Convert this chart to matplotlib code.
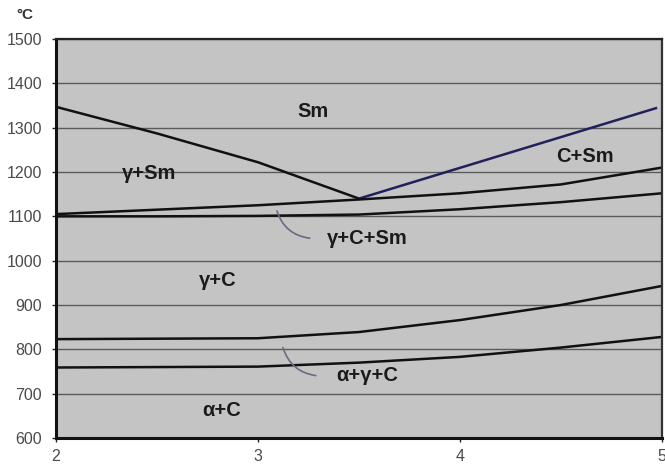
import matplotlib
matplotlib.use("Agg")
import matplotlib.pyplot as plt

# Data
liq_left_x = [2.0, 2.5, 3.0, 3.5]
liq_left_y = [1347, 1287, 1222, 1140]
liq_right_x = [3.5, 4.97]
liq_right_y = [1140, 1344]
upper_eut_x = [2.0, 2.5, 3.0, 3.5, 4.0, 4.5, 5.0]
upper_eut_y = [1105, 1115, 1125, 1138, 1152, 1172, 1210]
lower_eut_x = [2.0, 2.5, 3.0, 3.5, 4.0, 4.5, 5.0]
lower_eut_y = [1100, 1100, 1101, 1104, 1116, 1132, 1152]
upper_eoid_x = [2.0, 2.5, 3.0, 3.5, 4.0, 4.5, 5.0]
upper_eoid_y = [823, 824, 825, 839, 866, 900, 943]
lower_eoid_x = [2.0, 2.5, 3.0, 3.5, 4.0, 4.5, 5.0]
lower_eoid_y = [759, 760, 761, 770, 783, 804, 828]

region_labels = ["Sm", "γ+Sm", "C+Sm", "γ+C+Sm", "γ+C", "α+γ+C", "α+C"]
label_x = [3.27, 2.46, 4.62, 3.54, 2.8, 3.54, 2.82]
label_y = [1337, 1197, 1235, 1050, 955, 740, 661]

x_ticks = [2, 3, 4, 5]
y_ticks = list(range(600, 1501, 100))

plt.rcParams['font.family'] = ['Liberation Sans', 'DejaVu Sans']

fig = plt.figure(figsize=(6.65, 4.66), dpi=100)
ax = fig.add_axes([0.0842, 0.0601, 0.9955 - 0.0842, 0.9163 - 0.0601])
ax.set_facecolor('#c4c4c4')
ax.set_xlim(2, 5)
ax.set_ylim(600, 1500)
ax.set_xticks(x_ticks)
ax.set_yticks(y_ticks)
ax.yaxis.grid(True, color='#5a5a5a', linewidth=1.0)
ax.set_axisbelow(True)
ax.tick_params(axis='both', colors='#222222', labelcolor='#4a4a4a', labelsize=11.5,
               direction='out', length=3, width=1)
ax.tick_params(axis='y', pad=7)
ax.tick_params(axis='x', pad=5)

for s in ['left', 'bottom']:
    ax.spines[s].set_linewidth(2.2)
    ax.spines[s].set_color('#111111')
ax.spines['top'].set_linewidth(1.6)
ax.spines['top'].set_color('#222222')
ax.spines['right'].set_linewidth(1.6)
ax.spines['right'].set_color('#333333')

lw = 1.8
ax.plot(liq_left_x, liq_left_y, color='#111111', lw=lw)
ax.plot(liq_right_x, liq_right_y, color='#22205a', lw=lw)
ax.plot(upper_eut_x, upper_eut_y, color='#111111', lw=lw)
ax.plot(lower_eut_x, lower_eut_y, color='#111111', lw=lw)
ax.plot(upper_eoid_x, upper_eoid_y, color='#111111', lw=lw)
ax.plot(lower_eoid_x, lower_eoid_y, color='#111111', lw=lw)

for t, x, y in zip(region_labels, label_x, label_y):
    ax.text(x, y, t, fontsize=14.5, fontweight='bold', color='#1a1a1a',
            ha='center', va='center')

# leader curves
ax.annotate('', xy=(3.09, 1118), xytext=(3.27, 1050),
            arrowprops=dict(arrowstyle='-', color='#6a6a80', lw=1.2,
                            connectionstyle='arc3,rad=-0.35'))
ax.annotate('', xy=(3.12, 810), xytext=(3.30, 740),
            arrowprops=dict(arrowstyle='-', color='#6a6a80', lw=1.2,
                            connectionstyle='arc3,rad=-0.35'))

fig.text(16 / 665, 1 - 15 / 466, '°C', fontsize=11, fontweight='bold',
         color='#333333', ha='left', va='center')

fig.savefig('out.png', dpi=100)
